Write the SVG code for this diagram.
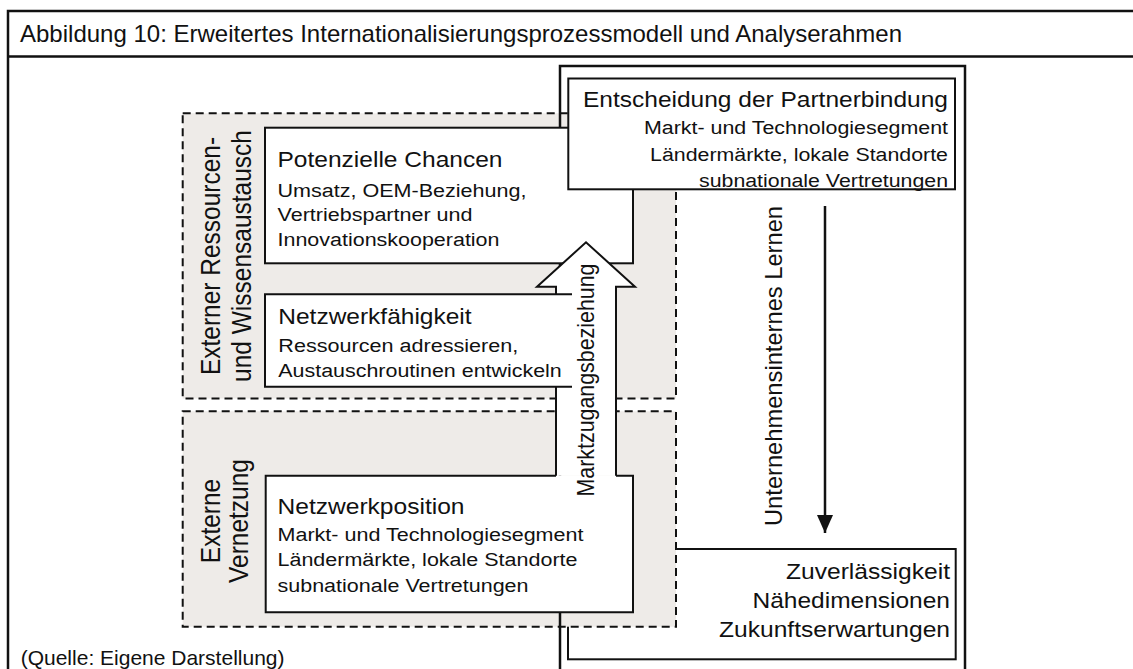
<svg xmlns="http://www.w3.org/2000/svg" width="1133" height="669" viewBox="0 0 1133 669">
  <style>
    text { font-family: "Liberation Sans", Arial, sans-serif; fill: #111; }
    .title { font-size: 24px; }
    .head { font-size: 22px; }
    .body { font-size: 19.2px; }
    .side { font-size: 24.5px; }
    .box { fill: #fff; stroke: #111; stroke-width: 2; }
    .edge { fill: none; stroke: #111; stroke-width: 2; }
    .zone { fill: #eeebe8; stroke: #111; stroke-width: 2; stroke-dasharray: 8 5; }
    .frame { fill: none; stroke: #111; stroke-width: 2.5; }
  </style>
  <defs>
    <marker id="head" viewBox="0 0 18 16" refX="18" refY="8" markerWidth="18" markerHeight="16" markerUnits="userSpaceOnUse" orient="auto">
      <path d="M0,0 L18,8 L0,16 Z" fill="#111"/>
    </marker>
  </defs>

  <!-- page frame with caption row -->
  <g id="page">
    <path class="frame" d="M8,700 V11 H1140 M8,56.5 H1140"/>
    <text class="title" x="20" y="41.7" textLength="882" lengthAdjust="spacingAndGlyphs">Abbildung 10: Erweitertes Internationalisierungsprozessmodell und Analyserahmen</text>
    <text x="20.7" y="664.5" style="font-size:21px">(Quelle: Eigene Darstellung)</text>
  </g>

  <!-- outcome box (partly under the lower zone) -->
  <g id="zuverlaessigkeit">
    <rect class="box" x="568" y="549" width="387.7" height="110.3"/>
    <text class="head" x="786" y="579" textLength="164" lengthAdjust="spacingAndGlyphs">Zuverlässigkeit</text>
    <text class="head" x="752.5" y="608.3" textLength="197.5" lengthAdjust="spacingAndGlyphs">Nähedimensionen</text>
    <text class="head" x="719" y="636.7" textLength="231" lengthAdjust="spacingAndGlyphs">Zukunftserwartungen</text>
  </g>

  <!-- shaded dashed zones -->
  <g id="zone-austausch">
    <rect class="zone" x="182.7" y="113.3" width="493.3" height="285.2"/>
    <text class="side" text-anchor="middle" transform="translate(220,256) scale(1.113,1) rotate(-90)">Externer Ressourcen-</text>
    <text class="side" text-anchor="middle" transform="translate(251,256) scale(1.113,1) rotate(-90)">und Wissensaustausch</text>
  </g>
  <g id="zone-vernetzung">
    <rect class="zone" x="182.7" y="411.3" width="493.3" height="215.4"/>
    <text class="side" text-anchor="middle" transform="translate(219.5,521) scale(1.113,1) rotate(-90)">Externe</text>
    <text class="side" text-anchor="middle" transform="translate(248,521) scale(1.113,1) rotate(-90)">Vernetzung</text>
  </g>

  <!-- internal frame of the firm -->
  <g id="unternehmen">
    <rect class="frame" x="560" y="66" width="405" height="640"/>
  </g>

  <g id="chancen">
    <rect class="box" x="265" y="127.7" width="368" height="135.6"/>
    <text class="head" x="277.5" y="167.3" textLength="225" lengthAdjust="spacingAndGlyphs">Potenzielle Chancen</text>
    <text class="body" x="277.5" y="196.7" textLength="249" lengthAdjust="spacingAndGlyphs">Umsatz, OEM-Beziehung,</text>
    <text class="body" x="277.5" y="221" textLength="195" lengthAdjust="spacingAndGlyphs">Vertriebspartner und</text>
    <text class="body" x="277.5" y="245.5" textLength="222" lengthAdjust="spacingAndGlyphs">Innovationskooperation</text>
  </g>

  <g id="entscheidung">
    <rect class="box" x="568.3" y="78.5" width="386.7" height="110.8"/>
    <text class="head" x="583" y="107" textLength="365" lengthAdjust="spacingAndGlyphs">Entscheidung der Partnerbindung</text>
    <text class="body" x="644" y="134.3" textLength="304" lengthAdjust="spacingAndGlyphs">Markt- und Technologiesegment</text>
    <text class="body" x="650" y="161" textLength="298" lengthAdjust="spacingAndGlyphs">Ländermärkte, lokale Standorte</text>
    <text class="body" x="699" y="187" textLength="249" lengthAdjust="spacingAndGlyphs">subnationale Vertretungen</text>
  </g>

  <g id="netzwerkposition">
    <path class="box" d="M556,475.7 H265.7 V612.3 H633 V475.7 H616"/>
    <text class="head" x="277.5" y="513.5" textLength="187" lengthAdjust="spacingAndGlyphs">Netzwerkposition</text>
    <text class="body" x="277.5" y="540.7" textLength="306" lengthAdjust="spacingAndGlyphs">Markt- und Technologiesegment</text>
    <text class="body" x="277.5" y="565.7" textLength="300" lengthAdjust="spacingAndGlyphs">Ländermärkte, lokale Standorte</text>
    <text class="body" x="277.5" y="591.7" textLength="251" lengthAdjust="spacingAndGlyphs">subnationale Vertretungen</text>
  </g>

  <!-- connectors -->
  <g id="connectors">
    <path id="marktzugang" class="box" d="M556,475.7 V286.7 H537 L586,242.3 L635,286.7 H616 V475.7"/>
    <text style="font-size:21.4px" text-anchor="middle" transform="translate(594,380) scale(1.113,1) rotate(-90)">Marktzugangsbeziehung</text>
    <line id="lernen" x1="825" y1="206" x2="825" y2="533" stroke="#111" stroke-width="2.5" marker-end="url(#head)"/>
    <text style="font-size:23.7px" text-anchor="middle" transform="translate(782,366) rotate(-90)">Unternehmensinternes Lernen</text>
  </g>

  <g id="netzwerkfaehigkeit">
    <rect x="265" y="294.3" width="307" height="92.4" fill="#fff"/>
    <path class="edge" d="M572,294.3 H265 V386.7 H572"/>
    <text class="head" x="278.3" y="324.3" textLength="193.3" lengthAdjust="spacingAndGlyphs">Netzwerkfähigkeit</text>
    <text class="body" x="278.3" y="351.7" textLength="240" lengthAdjust="spacingAndGlyphs">Ressourcen adressieren,</text>
    <text class="body" x="278.3" y="376.7" textLength="283.5" lengthAdjust="spacingAndGlyphs">Austauschroutinen entwickeln</text>
  </g>
</svg>
